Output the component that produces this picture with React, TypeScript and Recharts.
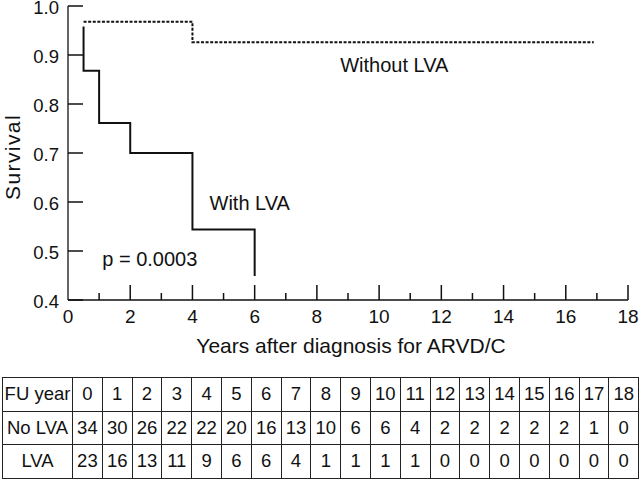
import React from "react";
import { LineChart, Line, XAxis, YAxis, ReferenceDot, Label } from "recharts";

// ---- Data ----
const withLVA = [
  { t: 0.5, s: 0.958 },
  { t: 0.5, s: 0.868 },
  { t: 1, s: 0.761 },
  { t: 2, s: 0.7 },
  { t: 4, s: 0.544 },
  { t: 6, s: 0.449 },
];
const withoutLVA = [
  { t: 0.5, s: 0.968 },
  { t: 4, s: 0.926 },
  { t: 16.9, s: 0.926 },
];
const xTicks = [0, 1, 2, 3, 4, 5, 6, 7, 8, 9, 10, 11, 12, 13, 14, 15, 16, 17, 18];
const yTicks = [0.4, 0.5, 0.6, 0.7, 0.8, 0.9, 1.0];
const annotations = [
  { t: 8.75, s: 0.881, text: "Without LVA" },
  { t: 4.55, s: 0.598, text: "With LVA" },
  { t: 1.1, s: 0.484, text: "p = 0.0003" },
];
const fuYears = ["0", "1", "2", "3", "4", "5", "6", "7", "8", "9", "10", "11", "12", "13", "14", "15", "16", "17", "18"];
const noLVACounts = [34, 30, 26, 22, 22, 20, 16, 13, 10, 6, 6, 4, 2, 2, 2, 2, 2, 1, 0];
const lvaCounts = [23, 16, 13, 11, 9, 6, 6, 4, 1, 1, 1, 1, 0, 0, 0, 0, 0, 0, 0];

const FONT = '"Liberation Sans", Arial, Helvetica, sans-serif';
const INK = "#111";
const Y_MARGIN = 9;
const X_MARGIN = 10;

const YTick = (props: any) => {
  const { x, y, payload } = props;
  const ax = x + Y_MARGIN;
  return (
    <g>
      <line x1={ax} x2={ax + 15} y1={y} y2={y} stroke={INK} strokeWidth={1.5} />
      <text x={x} y={y} dy="0.41em" textAnchor="end" fontSize={18.5} fontFamily={FONT} fill={INK}>
        {Number(payload.value).toFixed(1)}
      </text>
    </g>
  );
};

const XTick = (props: any) => {
  const { x, y, payload } = props;
  const v = Number(payload.value);
  const major = v % 2 === 0;
  const ay = y - X_MARGIN;
  return (
    <g>
      {v !== 0 && (
        <line x1={x} x2={x} y1={ay} y2={ay - (major ? 15 : 7)} stroke={INK} strokeWidth={1.5} />
      )}
      {major && (
        <text x={x} y={y} dy="0.71em" textAnchor="middle" fontSize={19} fontFamily={FONT} fill={INK}>
          {v}
        </text>
      )}
    </g>
  );
};

const cellStyle: React.CSSProperties = {
  border: "1px solid #222",
  padding: 0,
  textAlign: "center",
  fontSize: 18.5,
  fontFamily: FONT,
  color: INK,
  whiteSpace: "nowrap",
  overflow: "hidden",
};

export default function App() {
  const rows: [string, (string | number)[]][] = [
    ["FU year", fuYears],
    ["No LVA", noLVACounts],
    ["LVA", lvaCounts],
  ];
  return (
    <div style={{ position: "absolute", left: 0, top: 0, width: 640, height: 479, background: "#fff" }}>
      <LineChart
        width={640}
        height={360}
        margin={{ top: 6, right: 12, left: 0, bottom: 0 }}
      >
        <XAxis
          type="number"
          dataKey="t"
          domain={[0, 18]}
          ticks={xTicks}
          interval={0}
          allowDataOverflow
          height={60}
          tickSize={0}
          tickMargin={X_MARGIN}
          tickLine={false}
          tick={<XTick />}
          axisLine={{ stroke: INK, strokeWidth: 1.3 }}
        >
          <Label
            content={(p: any) => {
              const vb = p.viewBox;
              return (
                <text
                  x={vb.x + vb.width / 2 + 3}
                  y={vb.y + vb.height - 7}
                  textAnchor="middle"
                  fontSize={21}
                  fontFamily={FONT}
                  fill={INK}
                >
                  Years after diagnosis for ARVD/C
                </text>
              );
            }}
          />
        </XAxis>
        <YAxis
          type="number"
          dataKey="s"
          domain={[0.4, 1.0]}
          ticks={yTicks}
          interval={0}
          allowDataOverflow
          width={68}
          tickSize={0}
          tickMargin={Y_MARGIN}
          tickLine={false}
          tick={<YTick />}
          axisLine={{ stroke: INK, strokeWidth: 1.3 }}
        >
          <Label
            content={(p: any) => {
              const vb = p.viewBox;
              const cx = vb.x + 12;
              const cy = vb.y + vb.height / 2 + 4;
              return (
                <text
                  x={cx}
                  y={cy}
                  transform={`rotate(-90, ${cx}, ${cy})`}
                  textAnchor="middle"
                  dominantBaseline="central"
                  fontSize={21}
                  letterSpacing={1.4}
                  fontFamily={FONT}
                  fill={INK}
                >
                  Survival
                </text>
              );
            }}
          />
        </YAxis>
        <Line
          data={withoutLVA}
          dataKey="s"
          type="stepAfter"
          stroke={INK}
          strokeWidth={2}
          strokeDasharray="3 1.6"
          dot={false}
          activeDot={false}
          isAnimationActive={false}
        />
        <Line
          data={withLVA}
          dataKey="s"
          type="stepAfter"
          stroke={INK}
          strokeWidth={2}
          dot={false}
          activeDot={false}
          isAnimationActive={false}
        />
        {annotations.map((a) => (
          <ReferenceDot
            key={a.text}
            x={a.t}
            y={a.s}
            r={0}
            isFront
            shape={(p: any) => (
              <text
                x={p.cx}
                y={p.cy}
                dy="0.36em"
                textAnchor="start"
                fontSize={20}
                fontFamily={FONT}
                fill={INK}
              >
                {a.text}
              </text>
            )}
          />
        ))}
      </LineChart>
      <table
        style={{
          position: "absolute",
          left: 2,
          top: 377,
          width: 637,
          height: 101,
          borderCollapse: "collapse",
          tableLayout: "fixed",
        }}
      >
        <colgroup>
          <col style={{ width: 70 }} />
          {fuYears.map((y) => (
            <col key={y} style={{ width: 29.8 }} />
          ))}
        </colgroup>
        <tbody>
          {rows.map(([name, vals]) => (
            <tr key={name} style={{ height: 33.6 }}>
              <td style={cellStyle}>{name}</td>
              {vals.map((v, i) => (
                <td key={i} style={cellStyle}>
                  {v}
                </td>
              ))}
            </tr>
          ))}
        </tbody>
      </table>
    </div>
  );
}
